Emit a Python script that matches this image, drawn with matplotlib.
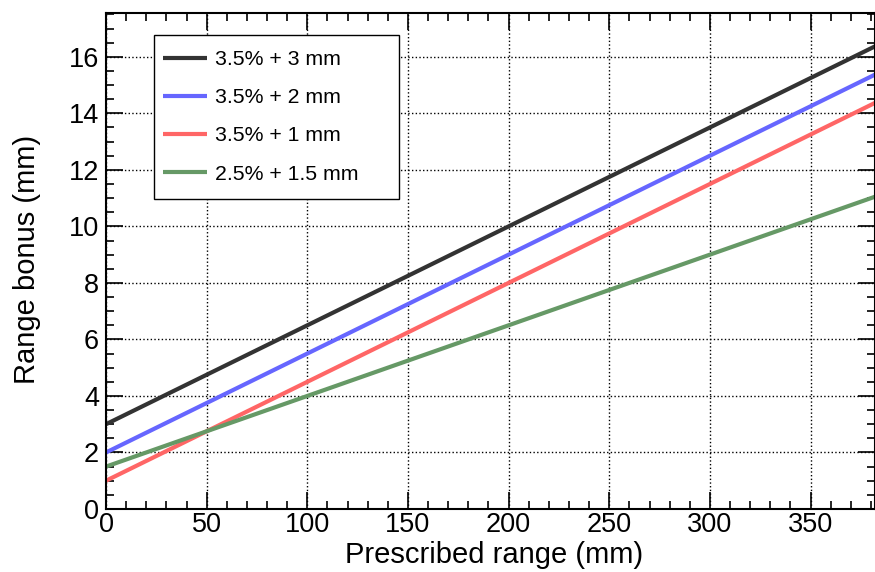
import numpy as np
import matplotlib.pyplot as plt
from matplotlib.ticker import MultipleLocator
from matplotlib.patches import Rectangle

plt.rcParams['font.family'] = ['Liberation Sans', 'DejaVu Sans']

# endpoints (prescribed range, range bonus)
x = [0, 382]
black = [3.0, 16.37]
blue = [2.0, 15.37]
red = [1.0, 14.37]
green = [1.5, 11.05]
labels = ['3.5% + 3 mm', '3.5% + 2 mm', '3.5% + 1 mm', '2.5% + 1.5 mm']
colors = ['#333333', '#6666ff', '#ff6666', '#669966']

fig = plt.figure(figsize=(8.75, 5.72), dpi=100)
ax = fig.add_axes([106/875, 1 - 509/572, 1 - 106/875, (509-13)/572])

for ys, lab, c in zip([black, blue, red, green], labels, colors):
    ax.plot(x, ys, color=c, lw=3, label=lab, solid_capstyle='butt')

ax.set_xlim(0, 382)
ax.set_ylim(0, 17.55)
ax.xaxis.set_major_locator(MultipleLocator(50))
ax.xaxis.set_minor_locator(MultipleLocator(10))
ax.yaxis.set_major_locator(MultipleLocator(2))
ax.yaxis.set_minor_locator(MultipleLocator(0.5))
ax.tick_params(which='both', direction='in', top=True, right=True, labelsize=19.5, width=1.2)
ax.tick_params(which='major', length=12)
ax.tick_params(which='minor', length=6)
ax.tick_params(axis='x', pad=2)
ax.tick_params(axis='y', pad=5)
for s in ax.spines.values():
    s.set_linewidth(1.5)
ax.grid(True, which='major', color='black', linestyle=':', linewidth=1)

fig.text(494/875, 1 - 555/572, 'Prescribed range (mm)', fontsize=21, ha='center', va='center')
fig.text(27/875, 1 - 259/572, 'Range bonus (mm)', fontsize=21, ha='center', va='center',
         rotation=90)

# legend box drawn separately (wide right margin like the original)
ax.add_patch(Rectangle((0.0624, 0.625), 0.3186, 0.3306, transform=ax.transAxes,
                       facecolor='white', edgecolor='black', lw=1.0, zorder=4))
leg = ax.legend(loc='upper left', bbox_to_anchor=(0.0741, 0.925), fontsize=15.3,
                frameon=False, borderpad=0, labelspacing=0.9, handlelength=2.05,
                handletextpad=0.4, borderaxespad=0)
leg.set_zorder(5)

fig.savefig('out.png', dpi=100)
